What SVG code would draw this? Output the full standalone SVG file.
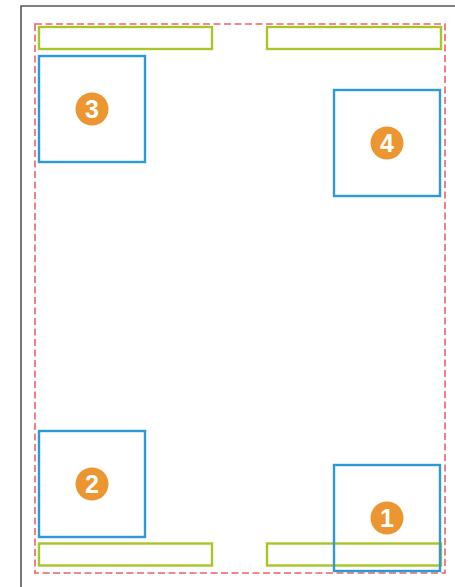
<svg xmlns="http://www.w3.org/2000/svg" width="455" height="587" viewBox="0 0 455 587">
<style>
.frame{fill:none;stroke:#5a5656;stroke-width:1.6}
.safe{fill:none;stroke:#e8636b;stroke-width:1.6;stroke-dasharray:7 3.5}
.bar{fill:none;stroke:#a9c529;stroke-width:2.4}
.box{fill:none;stroke:#2b9ad6;stroke-width:2.4}
.badge{fill:#eb9630}
.num{fill:#fff;font-family:"Liberation Sans",Arial,sans-serif;font-weight:bold;font-size:25px;text-anchor:middle}
</style>
<rect width="455" height="587" fill="#fff"/>
<g id="frame">
<path class="frame" d="M21,587 V6 H455"/>
</g>
<g id="safe-area">
<rect class="safe" x="35" y="24" width="410" height="549"/>
</g>
<g id="bar-top-left"><rect class="bar" x="39" y="27" width="173" height="22"/></g>
<g id="bar-top-right"><rect class="bar" x="267" y="27" width="174" height="22"/></g>
<g id="bar-bottom-left"><rect class="bar" x="39" y="543.5" width="173" height="22"/></g>
<g id="bar-bottom-right"><rect class="bar" x="267" y="543.5" width="174" height="22"/></g>
<g id="box-3">
<rect class="box" x="39" y="56" width="106" height="106"/>
<circle class="badge" cx="92" cy="109" r="16.5"/>
<text class="num" x="92" y="118">3</text>
</g>
<g id="box-4">
<rect class="box" x="334" y="90" width="106" height="106"/>
<circle class="badge" cx="387" cy="143" r="16.5"/>
<text class="num" x="387" y="152">4</text>
</g>
<g id="box-2">
<rect class="box" x="39" y="431" width="106" height="106"/>
<circle class="badge" cx="92" cy="484" r="16.5"/>
<text class="num" x="92" y="493">2</text>
</g>
<g id="box-1">
<rect class="box" x="334" y="465" width="106" height="106"/>
<circle class="badge" cx="387" cy="518" r="16.5"/>
<text class="num" x="387" y="527">1</text>
</g>
<g id="connectors"></g>
</svg>
